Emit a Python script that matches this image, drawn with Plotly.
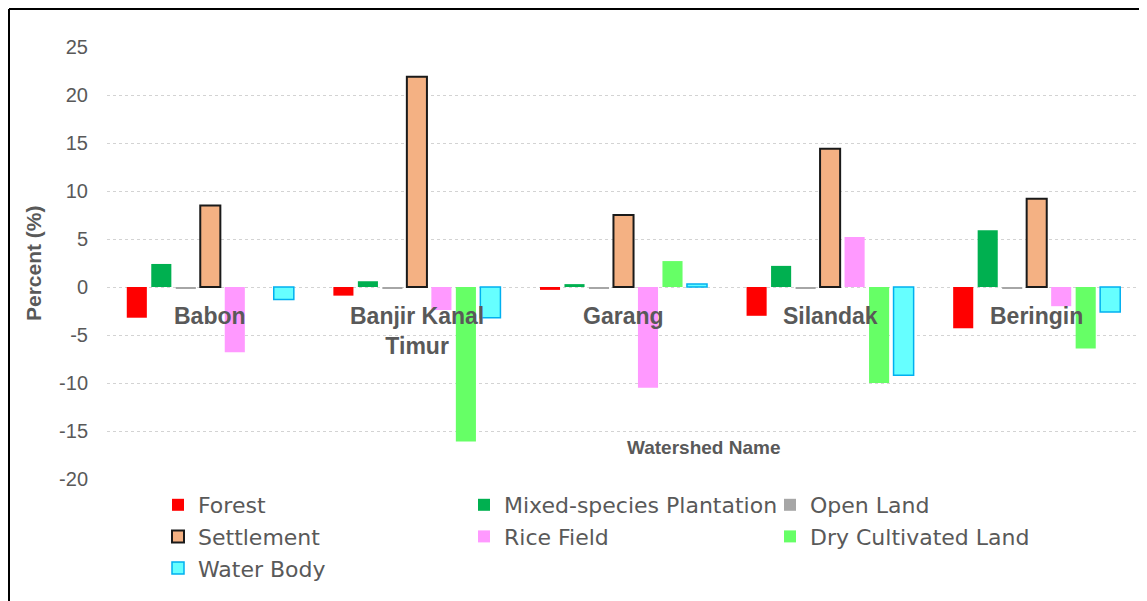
import plotly.graph_objects as go

watersheds = ["Babon", "Banjir Kanal Timur", "Garang", "Silandak", "Beringin"]
watershed_labels = ["Babon", "Banjir Kanal<br>Timur", "Garang", "Silandak", "Beringin"]

forest = [-3.2, -0.9, -0.3, -3.0, -4.3]
mixed_plantation = [2.4, 0.6, 0.3, 2.2, 5.9]
open_land = [-0.15, -0.15, -0.15, -0.15, -0.15]
settlement = [8.5, 21.9, 7.5, 14.4, 9.2]
rice_field = [-6.8, -2.4, -10.5, 5.2, -2.0]
dry_cultivated = [0.0, -16.1, 2.7, -10.0, -6.4]
water_body = [-1.3, -3.2, 0.3, -9.2, -2.6]

y_tick_values = [-20, -15, -10, -5, 0, 5, 10, 15, 20, 25]
y_tick_labels = ["-20", "-15", "-10", "-5", "0", "5", "10", "15", "20", "25"]

series = [
    ("Forest", forest, "#FF0000", None, 0),
    ("Mixed-species Plantation", mixed_plantation, "#00B050", None, 0),
    ("Open Land", open_land, "#A6A6A6", None, 0),
    ("Settlement", settlement, "#F4B183", "#1A1A1A", 2),
    ("Rice Field", rice_field, "#FF99FF", None, 0),
    ("Dry Cultivated Land", dry_cultivated, "#66FF66", None, 0),
    ("Water Body", water_body, "#66FFFF", "#00B0F0", 1.5),
]

fig = go.Figure()
for name, vals, color, lcolor, lw in series:
    fig.add_trace(go.Bar(
        name=name, x=watersheds, y=vals,
        marker=dict(color=color, line=dict(color=lcolor or color, width=lw)),
    ))

OFF = 8  # page body margin
W, H = 1147, 601
L, T = 107 - OFF, 47 - OFF
R = W - (1140 - OFF)
B = H - (479 - OFF)
pw, ph = W - L - R, H - T - B

def px_x(p):
    return (p - OFF - L) / pw

def px_y(p):
    return (H - B - (p - OFF)) / ph

annotations = []
for cat, lab in zip(watersheds, watershed_labels):
    annotations.append(dict(
        x=cat, y=-1.5, xref="x", yref="y", text=lab, showarrow=False,
        yanchor="top", xanchor="center",
        font=dict(family="Liberation Sans, Arial", size=23, color="#595959", weight="bold"),
    ))
annotations.append(dict(
    x=px_x(703), y=px_y(447), xref="paper", yref="paper", text="Watershed Name",
    showarrow=False, xanchor="center", yanchor="middle",
    font=dict(family="Liberation Sans Narrow, Liberation Sans, Arial", size=19, color="#595959", weight="bold"),
))
annotations.append(dict(
    x=px_x(33), y=px_y(263), xref="paper", yref="paper", text="Percent (%)",
    showarrow=False, xanchor="center", yanchor="middle", textangle=-90,
    font=dict(family="Liberation Sans, Arial", size=21, color="#595959", weight="bold"),
))

shapes = [
    dict(type="line", xref="paper", yref="paper", x0=px_x(9), x1=px_x(9), y0=px_y(640), y1=px_y(9),
         line=dict(color="black", width=2)),
    dict(type="line", xref="paper", yref="paper", x0=px_x(9), x1=px_x(1180), y0=px_y(9), y1=px_y(9),
         line=dict(color="black", width=2)),
]

fig.update_layout(
    width=W, height=H,
    margin=dict(l=L, r=R, t=T, b=B),
    paper_bgcolor="white", plot_bgcolor="white",
    barmode="group", bargap=0.17, bargroupgap=0.18,
    font=dict(family="Liberation Sans, Arial", color="#595959"),
    xaxis=dict(showticklabels=False, showgrid=False, zeroline=False, showline=False, ticks=""),
    yaxis=dict(
        range=[-20, 25], tickmode="array", tickvals=y_tick_values, ticktext=y_tick_labels,
        showgrid=True, gridcolor="#D3D3D3", griddash="dot",
        gridwidth=1, zeroline=False, showline=False, ticks="", ticklabelstandoff=18,
        tickfont=dict(family="Liberation Sans, Arial", size=20, color="#595959"),
    ),
    legend=dict(
        orientation="h", x=px_x(158), y=px_y(484), xanchor="left", yanchor="top",
        entrywidth=261, entrywidthmode="pixels", traceorder="normal",
        font=dict(family="DejaVu Sans", size=22, color="#595959"),
        bgcolor="rgba(0,0,0,0)", itemwidth=30,
    ),
    annotations=annotations,
    shapes=shapes,
    showlegend=True,
)

fig.write_html("out.html")
